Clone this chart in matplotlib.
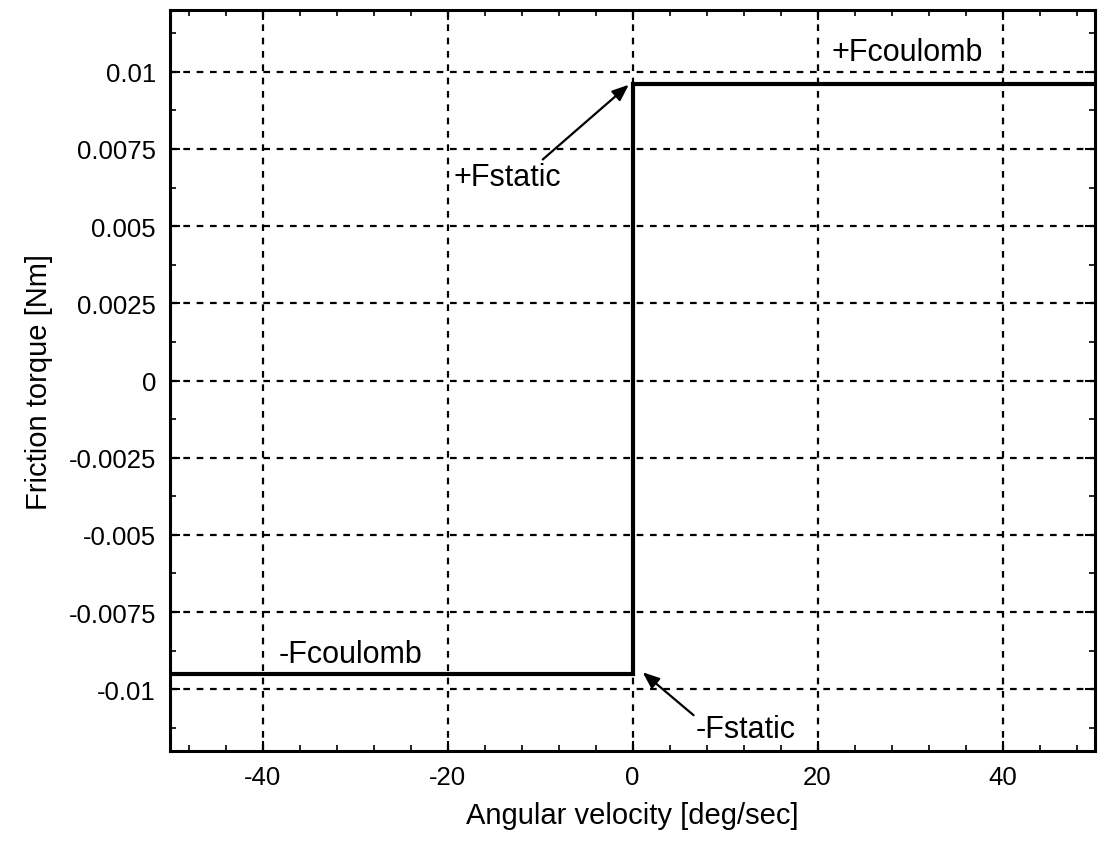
import matplotlib
matplotlib.use("Agg")
import matplotlib.pyplot as plt
from matplotlib.ticker import MultipleLocator, FixedFormatter, FixedLocator

plt.rcParams['font.family'] = ['Liberation Sans', 'DejaVu Sans']

# data
velocity = [-50, 0, 0, 50]
torque = [-0.0095, -0.0095, 0.0096, 0.0096]
xticks = [-40, -20, 0, 20, 40]
xticklabels = ['-40', '-20', '0', '20', '40']
yticks = [0.01, 0.0075, 0.005, 0.0025, 0, -0.0025, -0.005, -0.0075, -0.01]
yticklabels = ['0.01', '0.0075', '0.005', '0.0025', '0', '-0.0025', '-0.005', '-0.0075', '-0.01']

fig = plt.figure(figsize=(11.1, 8.45), dpi=100)
ax = fig.add_axes([170/1110, 1-752/845, (1095-170)/1110, (752-11)/845])

ax.plot(velocity, torque, color='black', lw=3.0, solid_joinstyle='miter')
ax.set_xlim(-50, 50)
ax.set_ylim(-0.012, 0.012)

ax.xaxis.set_major_locator(FixedLocator(xticks))
ax.xaxis.set_major_formatter(FixedFormatter(xticklabels))
ax.yaxis.set_major_locator(FixedLocator(yticks))
ax.yaxis.set_major_formatter(FixedFormatter(yticklabels))
ax.xaxis.set_minor_locator(MultipleLocator(4))
ax.yaxis.set_minor_locator(MultipleLocator(0.00125))

ax.tick_params(which='both', direction='in', top=True, right=True, color='black')
ax.tick_params(which='major', length=7, width=1.5, labelsize=18.5, pad=10)
ax.tick_params(which='minor', length=4, width=1.2)

ax.grid(True, which='major', color='black', linestyle=(0, (3, 3)), linewidth=1.6)
for s in ax.spines.values():
    s.set_linewidth(2.2)

ax.set_xlabel('Angular velocity [deg/sec]', fontsize=21, labelpad=9)
ax.set_ylabel('Friction torque [Nm]', fontsize=21, labelpad=11)

arrowprops = dict(arrowstyle='-|>,head_length=1.0,head_width=0.4', color='black', lw=1.6,
                  shrinkA=0, shrinkB=0)
fs = 22
ax.text(-19.3, 0.00658, '+Fstatic', fontsize=fs, ha='left', va='center')
ax.annotate('', xy=(-0.4, 0.00958), xytext=(-9.7, 0.00716), arrowprops=arrowprops)
ax.text(6.8, -0.01129, '-Fstatic', fontsize=fs, ha='left', va='center')
ax.annotate('', xy=(1.1, -0.00945), xytext=(6.6, -0.01084), arrowprops=arrowprops)
ax.text(21.5, 0.01065, '+Fcoulomb', fontsize=fs, ha='left', va='center')
ax.text(-38.3, -0.00887, '-Fcoulomb', fontsize=fs, ha='left', va='center')

fig.savefig('out.png', dpi=100)
